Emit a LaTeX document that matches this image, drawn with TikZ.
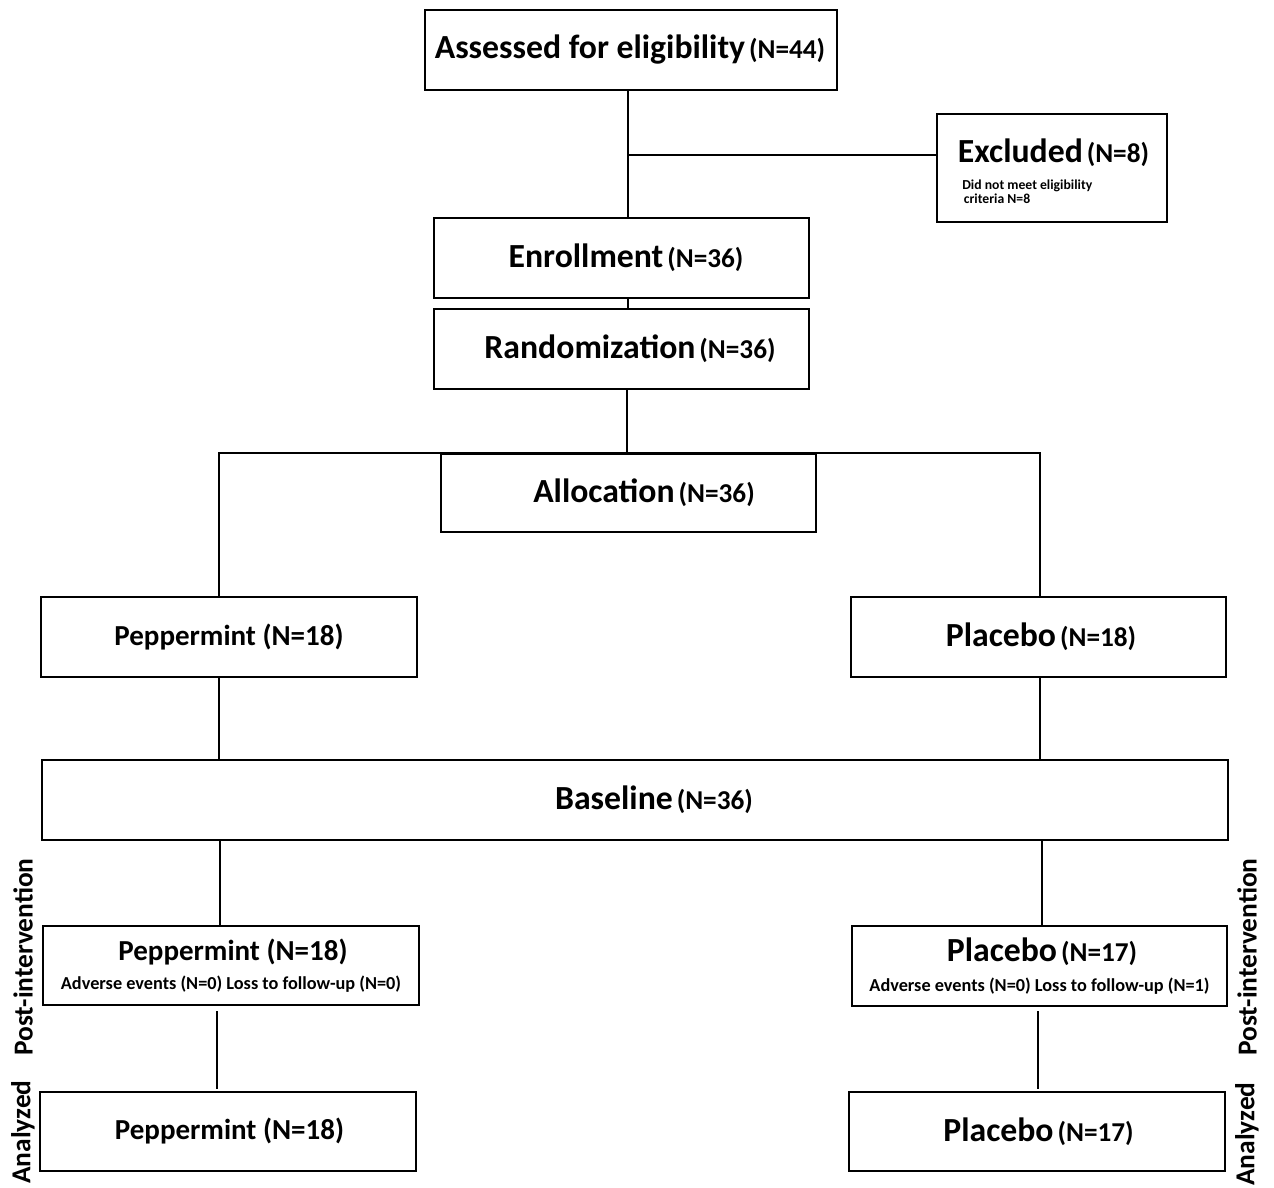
\documentclass[tikz,border=0pt]{standalone}
\usepackage{fontspec}
\setmainfont{Carlito}
\newcommand{\tbig}[1]{{\fontsize{19.2}{21}\selectfont #1}}
\newcommand{\tpep}[1]{{\fontsize{16.5}{19}\selectfont #1}}
\newcommand{\tsm}[1]{{\fontsize{15.5}{17}\selectfont #1}}
\newcommand{\tmid}[1]{{\fontsize{10.4}{12}\selectfont #1}}
\begin{document}
\begin{tikzpicture}[x=0.02cm,y=-0.02cm,
  box/.style={draw=black,line width=1.5pt,inner sep=0pt,align=center,font=\bfseries},
  conn/.style={line width=1.4pt},
  side/.style={rotate=90,font=\bfseries\fontsize{15.6}{18}\selectfont}]
\useasboundingbox (0,0) rectangle (1274,1187);

\node[box,minimum width=412*0.02cm,minimum height=80*0.02cm] (assess) at (631,50) {\hspace*{-0.04cm}\tbig{Assessed for eligibility} \tsm{(N=44)}};
\node[box,minimum width=230*0.02cm,minimum height=108*0.02cm] (excl) at (1052,168) {};
\node[font=\bfseries,inner sep=0pt] (excltitle) at (1053.5,153) {\tbig{Excluded} \tsm{(N=8)}};
\node[font=\bfseries\fontsize{7.8}{6.4}\selectfont,inner sep=0pt,align=left,anchor=west] (excldet) at (962,191.5)
  {Did not meet eligibility\\\hspace*{0.03cm}criteria N=8};
\node[box,minimum width=375*0.02cm,minimum height=80*0.02cm] (enroll) at (621.5,258) {\hspace*{0.18cm}\tbig{Enrollment} \tsm{(N=36)}};
\node[box,minimum width=375*0.02cm,minimum height=80*0.02cm] (random) at (621.5,349) {\hspace*{0.34cm}\tbig{Randomization} \tsm{(N=36)}};
\node[box,minimum width=375*0.02cm,minimum height=78*0.02cm] (alloc) at (628.5,493) {\hspace*{0.62cm}\tbig{Allocation} \tsm{(N=36)}};
\node[box,minimum width=376*0.02cm,minimum height=80*0.02cm] (pep) at (229,637) {\tpep{Peppermint (N=18)}};
\node[box,minimum width=375*0.02cm,minimum height=80*0.02cm] (plac) at (1038.5,637) {\hspace*{0.1cm}\tbig{Placebo} \tsm{(N=18)}};
\node[box,minimum width=1186*0.02cm,minimum height=80*0.02cm] (base) at (635,800) {\hspace*{0.76cm}\tbig{Baseline} \tsm{(N=36)}};
\node[box,minimum width=376*0.02cm,minimum height=79*0.02cm] (peppost) at (231,965.5)
  {\hspace*{0.08cm}\tpep{Peppermint (N=18)}\\[4.5pt] \tmid{Adverse events (N=0) Loss to follow-up (N=0)}};
\node[box,minimum width=375*0.02cm,minimum height=80*0.02cm] (placpost) at (1039.5,966)
  {\hspace*{0.1cm}\tbig{Placebo} \tsm{(N=17)}\\[5pt] \tmid{Adverse events (N=0) Loss to follow-up (N=1)}};
\node[box,minimum width=376*0.02cm,minimum height=79*0.02cm] (pepan) at (228,1131.5) {\hspace*{0.06cm}\raisebox{-0.16cm}{\tpep{Peppermint (N=18)}}};
\node[box,minimum width=376*0.02cm,minimum height=79*0.02cm] (placan) at (1037,1131.5) {\hspace*{0.06cm}\tbig{Placebo} \tsm{(N=17)}};

\node[side] (lpost) at (23,957) {Post-intervention};
\node[side] (lan) at (23,1132) {Analyzed};
\node[side] (rpost) at (1247,957) {Post-intervention};
\node[side] (ran) at (1247,1134) {Analyzed};

\coordinate (j1) at (628,155);
\coordinate (j2) at (627,453);
\coordinate (sl) at (219,453);
\coordinate (sr) at (1040,453);
\draw[conn] (assess.south -| j1) -- (enroll.north -| j1);
\draw[conn] (j1) -- (excl.west |- j1);
\draw[conn] (enroll.south -| j1) -- (random.north -| j1);
\draw[conn] (random.south -| j2) -- (j2);
\draw[conn] (pep.north -| sl) -- (sl) -- (sr) -- (plac.north -| sr);
\draw[conn] (pep.south -| sl) -- (base.north -| sl);
\draw[conn] (plac.south -| sr) -- (base.north -| sr);
\draw[conn] (base.south -| 220,0) -- (peppost.north -| 220,0);
\draw[conn] (base.south -| 1042,0) -- (placpost.north -| 1042,0);
\draw[conn] ([yshift=-5*0.02cm]peppost.south -| 217,0) -- ([yshift=2*0.02cm]pepan.north -| 217,0);
\draw[conn] ([yshift=-4*0.02cm]placpost.south -| 1038,0) -- ([yshift=2*0.02cm]placan.north -| 1038,0);
\end{tikzpicture}
\end{document}
